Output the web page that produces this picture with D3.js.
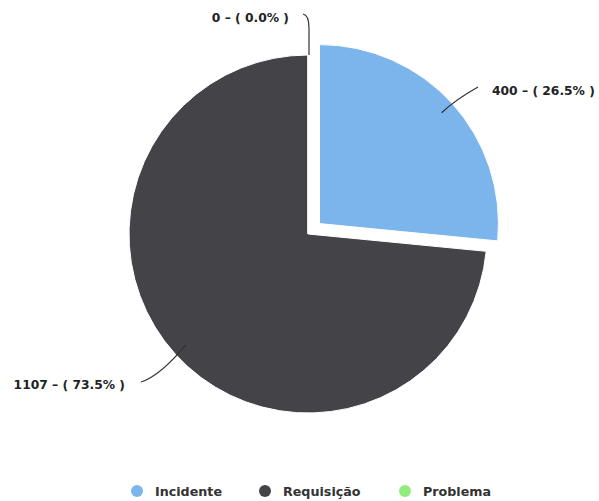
<!DOCTYPE html>
<html><head><meta charset="utf-8">
<script src="https://cdn.jsdelivr.net/npm/d3@7"></script>
<style>body{margin:0;background:#fff}svg{display:block}</style>
</head><body>
<svg id="c" width="599" height="501"></svg>
<script>
const categories = ["Incidente", "Requisição", "Problema"];
const values = [400, 1107, 0];
const colors = ["#7cb5ec", "#434348", "#90ed7d"];

const svg = d3.select("#c");
const cx = 308, cy = 234, r = 179;
const slicedOffset = 15.5;
const total = d3.sum(values);
const pie = d3.pie().sort(null).value(d => d.v)(categories.map((c, i) => ({c, v: values[i], i})));
const arc = d3.arc().innerRadius(0).outerRadius(r);

const g = svg.append("g").attr("transform", `translate(${cx},${cy})`);
pie.forEach((p, k) => {
  const mid = (p.startAngle + p.endAngle) / 2;
  const off = p.data.i === 0 ? slicedOffset : 0;
  p.ox = Math.sin(mid) * off; p.oy = -Math.cos(mid) * off; p.mid = mid;
});
g.selectAll("path.s").data(pie).join("path").attr("class", "s")
  .attr("d", arc)
  .attr("transform", d => `translate(${d.ox},${d.oy})`)
  .attr("fill", d => colors[d.data.i])
  .attr("stroke", "#fff").attr("stroke-width", 1);

// label layout (positions only)
const labelLayout = [
  {x: 492, y: 95, anchor: "start", end: [478, 87], c: [455, 100]},
  {x: 125, y: 389, anchor: "end", end: [141, 382], c: [160, 376]},
  {x: 289, y: 22, anchor: "end", end: [303, 14], c: [313, 16]}
];
const fmt = d => `${d.v} – ( ${(d.v / total * 100).toFixed(1)}% )`;
pie.forEach(p => {
  const L = labelLayout[p.data.i];
  const rr = p.data.i === 2 ? r : r - 14;
  const sx = cx + p.ox + Math.sin(p.mid) * rr, sy = cy + p.oy - Math.cos(p.mid) * rr;
  let d;
  if (p.data.i === 2) {
    d = `M${L.end[0]},${L.end[1]} Q${sx + 1},${L.end[1] + 1} ${sx + 1},${L.end[1] + 14} L${sx + 1},${sy}`;
  } else {
    d = `M${sx},${sy} Q${L.c[0]},${L.c[1]} ${L.end[0]},${L.end[1]}`;
  }
  svg.append("path").attr("d", d).attr("fill", "none").attr("stroke", "#333").attr("stroke-width", 1.2);
  svg.append("text").attr("x", L.x).attr("y", L.y).attr("text-anchor", L.anchor)
    .attr("font-family", "DejaVu Sans").attr("font-size", 12.3).attr("font-weight", "bold")
    .attr("fill", "#222").text(fmt(p.data));
});

// legend
const legendX = [137, 265, 405];
const lg = svg.append("g");
categories.forEach((c, i) => {
  lg.append("circle").attr("cx", legendX[i]).attr("cy", 491).attr("r", 6).attr("fill", colors[i]);
  lg.append("text").attr("x", legendX[i] + 18).attr("y", 496)
    .attr("font-family", "DejaVu Sans").attr("font-size", 12.7).attr("font-weight", "bold")
    .attr("fill", "#333").text(c);
});
</script>
</body></html>
